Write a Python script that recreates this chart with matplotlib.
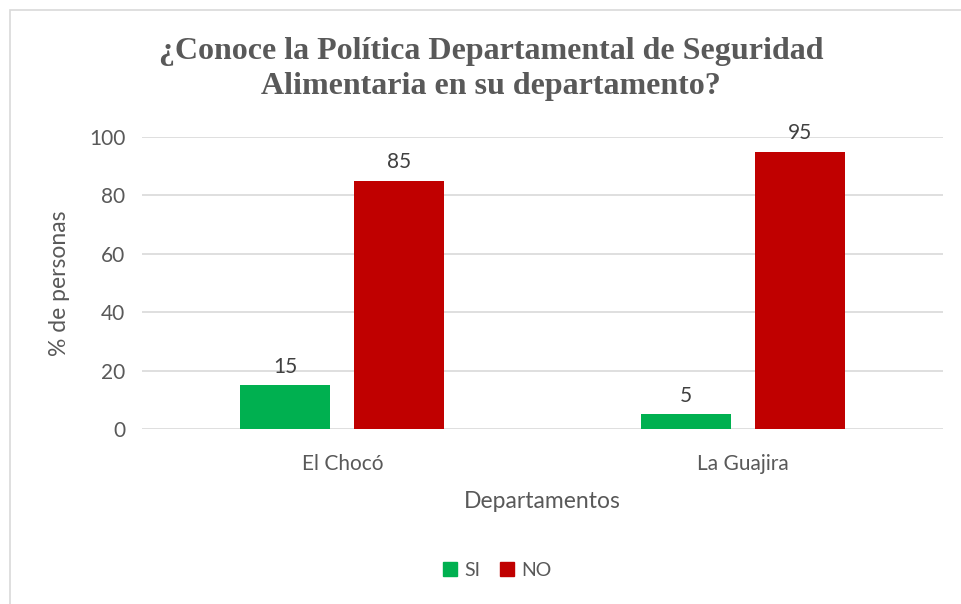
import numpy as np
import matplotlib.pyplot as plt
from matplotlib.patches import Rectangle, Patch

# data
departamentos = ['El Chocó', 'La Guajira']
si = [15, 5]
no = [85, 95]

plt.rcParams['font.family'] = ['Lato', 'DejaVu Sans']
gray = '#595959'

fig = plt.figure(figsize=(9.61, 6.04), dpi=100)
W, H = 961, 604
ax = fig.add_axes([142 / W, 1 - 429 / H, 801 / W, (429 - 137) / H])

x = np.arange(len(departamentos))
w = 0.225
off = 0.1425
b1 = ax.bar(x - off, si, w, color='#00B050', label='SI')
b2 = ax.bar(x + off, no, w, color='#C00000', label='NO')

for bars in (b1, b2):
    for r in bars:
        ax.annotate(f'{r.get_height():g}', (r.get_x() + r.get_width() / 2, r.get_height()),
                    xytext=(0, 6), textcoords='offset points', ha='center', va='bottom',
                    fontsize=15, color='#404040')

ax.set_xlim(-0.5, 1.5)
ax.set_ylim(0, 100)
ax.set_yticks(range(0, 101, 20))
ax.set_xticks(x)
ax.set_xticklabels(departamentos)
ax.tick_params(length=0, labelsize=15, colors=gray, pad=12)
ax.tick_params(axis='x', pad=18)
ax.grid(axis='y', color='#D9D9D9', linewidth=1.2)
ax.set_axisbelow(True)
for s in ax.spines.values():
    s.set_visible(False)

ax.set_ylabel('% de personas', fontsize=16.5, color=gray, labelpad=14)
ax.set_xlabel('Departamentos', fontsize=16.5, color=gray, labelpad=12)

fig.text(491 / W, 1 - 69 / H, '¿Conoce la Política Departamental de Seguridad\nAlimentaria en su departamento?',
         ha='center', va='center', fontsize=23, fontweight='bold', color=gray,
         family='Liberation Serif', linespacing=1.3)

handles = [Patch(color='#00B050', label='SI'), Patch(color='#C00000', label='NO')]
fig.legend(handles=handles, loc='center', bbox_to_anchor=(497 / W, 1 - 570 / H), ncol=2,
           frameon=False, fontsize=14, handlelength=0.75, handleheight=0.75,
           handletextpad=0.35, columnspacing=1.0, labelcolor=gray)

fig.patches.append(Rectangle((10 / W, -0.1), 1.1, 1.1 - 10 / H, transform=fig.transFigure,
                             fill=False, edgecolor='#D9D9D9', linewidth=1.2))

fig.savefig('out.png', dpi=100)
